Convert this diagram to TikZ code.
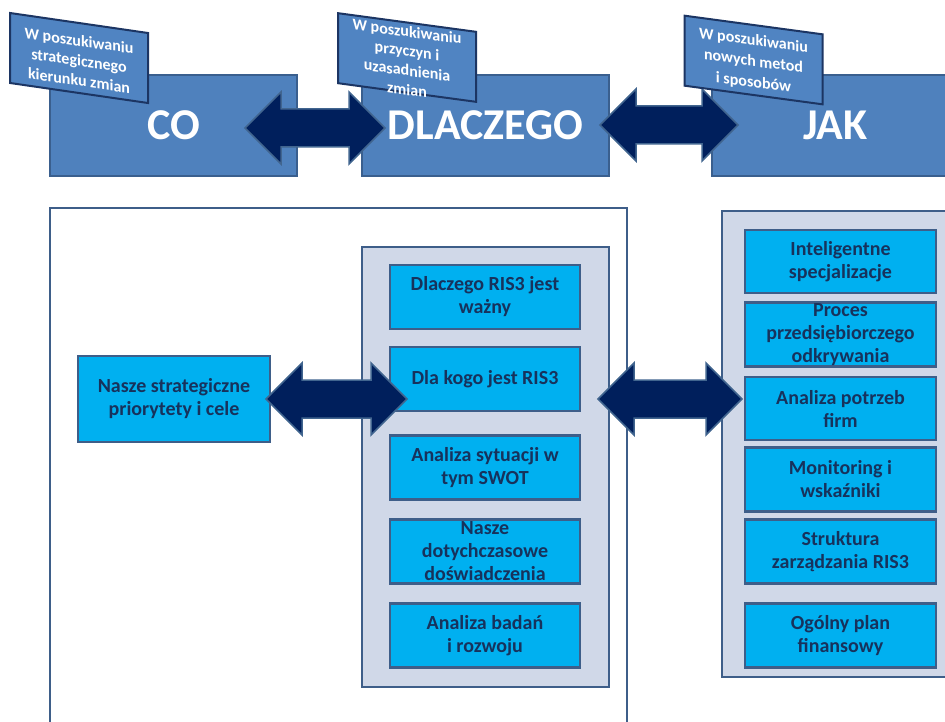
\documentclass[tikz,border=0pt]{standalone}
\usepackage{fontspec}
\setmainfont{Carlito}
\usetikzlibrary{calc}

\definecolor{topblue}{HTML}{4F81BD}
\definecolor{boxedge}{HTML}{3A5F8E}
\definecolor{tagblue}{HTML}{5084C2}
\definecolor{tagedge}{HTML}{1C3563}
\definecolor{arrownavy}{HTML}{001F5C}
\definecolor{arrowedge}{HTML}{41658F}
\definecolor{paneledge}{HTML}{3E5E89}
\definecolor{panelgrey}{HTML}{D0D8E8}
\definecolor{itemcyan}{HTML}{00B0F0}
\definecolor{itemtext}{HTML}{17325C}

% double block arrow between two points on the same horizontal line
\newcommand\dblblock[2]{%
  \path[blockarrow] let \p1=(#1), \p2=(#2) in
    (\x1,\y1) -- (\x1+36pt,\y1+36pt) -- (\x1+36pt,\y1+19pt)
    -- (\x2-36pt,\y1+19pt) -- (\x2-36pt,\y1+36pt) -- (\x2,\y1)
    -- (\x2-36pt,\y1-36pt) -- (\x2-36pt,\y1-19pt)
    -- (\x1+36pt,\y1-19pt) -- (\x1+36pt,\y1-36pt) -- cycle;}

\begin{document}
\begin{tikzpicture}[x=1pt,y=-1pt,
  topbox/.style={draw=boxedge, fill=topblue, line width=2pt,
    minimum width=247pt, minimum height=101pt, inner sep=0pt,
    text=white, font=\bfseries\fontsize{44}{50}\selectfont},
  tagbox/.style={draw=tagedge, fill=tagblue, line width=2pt,
    minimum width=138pt, minimum height=70pt, inner sep=0pt, transform shape},
  tagtext/.style={text=white, align=center, inner sep=0pt, transform shape,
    font=\bfseries\fontsize{16}{20}\selectfont},
  panel/.style={draw=paneledge, line width=1.8pt, inner sep=0pt},
  item/.style={draw=paneledge, fill=itemcyan, line width=2.4pt,
    minimum width=190pt, minimum height=64pt, inner sep=1pt,
    text=itemtext, align=center, font=\bfseries\fontsize{20}{23}\selectfont},
  blockarrow/.style={fill=arrownavy, draw=arrowedge, line width=1.5pt, line join=miter}]

\path[use as bounding box, clip] (0,0) rectangle (945,722);
\fill[white] (0,0) rectangle (945,722);

% ---- upper row: the three questions ----
\node[topbox] (co)  at (173.5,125.5) {CO};
\node[topbox] (dl)  at (485.5,125.5) {DLACZEGO};
\node[topbox] (jak) at (835.5,125.5) {JAK};

\coordinate (a1l) at (245,128);
\coordinate (a1r) at (385,128);
\coordinate (a2l) at (600,125);
\coordinate (a2r) at (738,125);
\dblblock{a1l}{a1r}
\dblblock{a2l}{a2r}

% slanted captions above the questions
\begin{scope}[shift={(79,58)}, yslant=-0.145]
  \node[tagbox] (tagco) at (0,0) {};
  \node[tagtext] at (0,2.5) {W poszukiwaniu\\strategicznego\\kierunku zmian};
\end{scope}
\begin{scope}[shift={(407,57.5)}, yslant=-0.135]
  \node[tagbox] (tagdl) at (0,0) {};
  \node[tagtext, font=\bfseries\fontsize{16}{19.5}\selectfont] at (0,3)
    {W poszukiwaniu\\przyczyn i\\uzasadnienia\\zmian};
\end{scope}
\begin{scope}[shift={(753.5,60)}, yslant=-0.135]
  \node[tagbox] (tagjak) at (0,0) {};
  \node[tagtext, font=\bfseries\fontsize{16}{21}\selectfont] at (0,2)
    {W poszukiwaniu\\nowych metod\\i sposobów};
\end{scope}

% ---- lower part: panels ----
\node[panel, fill=white, minimum width=577pt, minimum height=560pt] (bigpanel) at (338.5,488) {};
\node[panel, fill=panelgrey, minimum width=247pt, minimum height=440pt] (midpanel) at (485.5,467) {};
\node[panel, fill=panelgrey, minimum width=243pt, minimum height=466pt] (rightpanel) at (843.5,444) {};

\node[item, minimum width=192pt, minimum height=86pt] (goals) at (174,399) {Nasze strategiczne\\priorytety i cele};

\node[item] (m1) at (485,297)   {Dlaczego RIS3 jest\\ważny};
\node[item] (m2) at (485,379)   {Dla kogo jest RIS3};
\node[item] (m3) at (485,467.5) {Analiza sytuacji w\\tym SWOT};
\node[item] (m4) at (485,551.5) {Nasze\\dotychczasowe\\doświadczenia};
\node[item] (m5) at (485,635.5) {Analiza badań\\i rozwoju};

\node[item, minimum width=191pt, minimum height=63pt] (r1) at (840.5,261.5) {Inteligentne\\specjalizacje};
\node[item, minimum width=191pt] (r2) at (840.5,334.5) {Proces\\przedsiębiorczego\\odkrywania};
\node[item, minimum width=191pt, minimum height=63pt] (r3) at (840.5,408.5) {Analiza potrzeb\\firm};
\node[item, minimum width=191pt] (r4) at (840.5,479.5) {Monitoring i\\wskaźniki};
\node[item, minimum width=191pt] (r5) at (840.5,551.5) {Struktura\\zarządzania RIS3};
\node[item, minimum width=191pt] (r6) at (840.5,635.5) {Ogólny plan\\finansowy};

\coordinate (b1l) at (266,399);
\coordinate (b1r) at (407,399);
\coordinate (b2l) at (598,399);
\coordinate (b2r) at (742,399);
\dblblock{b1l}{b1r}
\dblblock{b2l}{b2r}

\end{tikzpicture}
\end{document}
